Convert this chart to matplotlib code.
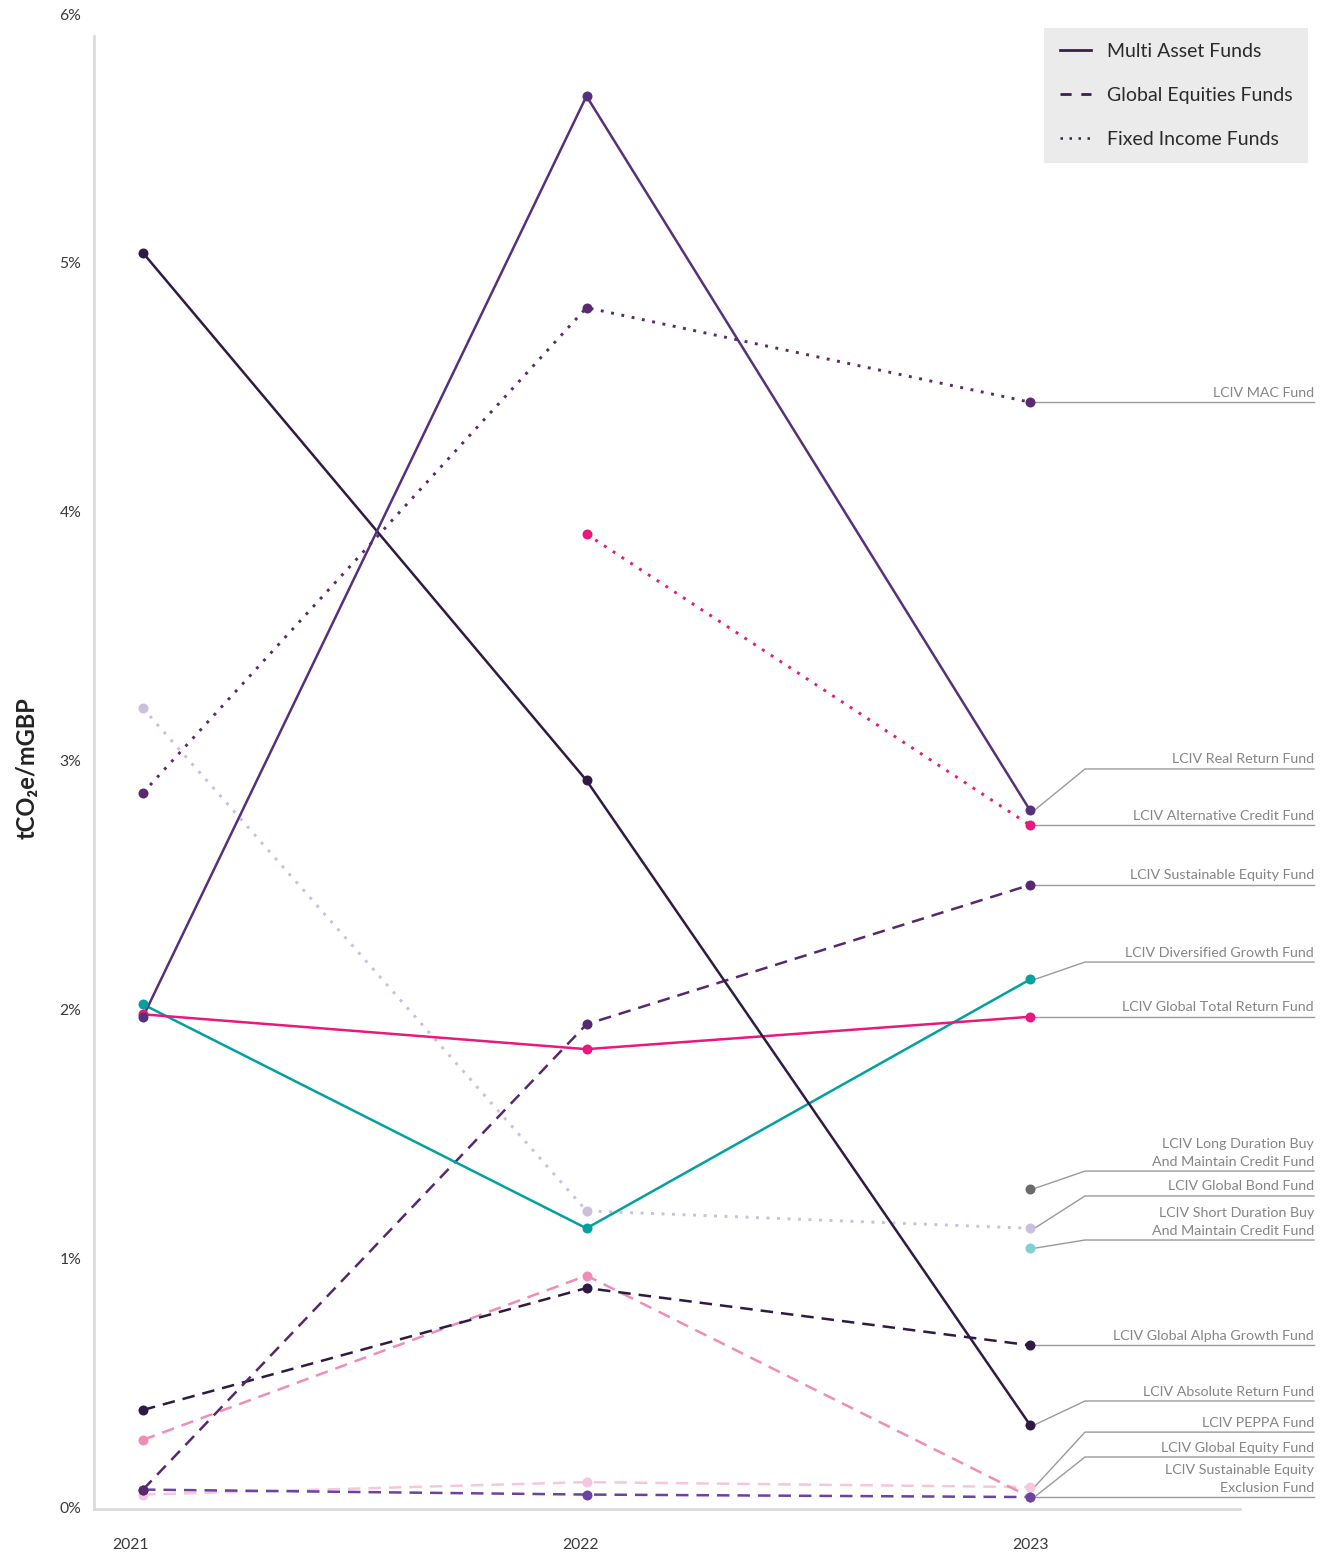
import numpy as np
import matplotlib
matplotlib.use("Agg")
import matplotlib.pyplot as plt
from matplotlib.lines import Line2D

plt.rcParams["font.family"] = ["Lato", "DejaVu Sans"]

years = ["2021", "2022", "2023"]

# Carbon intensity (tCO2e/mGBP, shown as %) per fund and year; NaN = no figure
mac_fund = [2.87, 4.82, 4.44]
real_return = [1.97, 5.67, 2.80]
alternative_credit = [np.nan, 3.91, 2.74]
sustainable_equity = [0.07, 1.94, 2.50]
diversified_growth = [2.02, 1.12, 2.12]
global_total_return = [1.98, 1.84, 1.97]
long_duration_bm = [np.nan, np.nan, 1.28]
global_bond = [3.21, 1.19, 1.12]
short_duration_bm = [np.nan, np.nan, 1.04]
global_alpha_growth = [0.39, 0.88, 0.65]
absolute_return = [5.04, 2.92, 0.33]
peppa = [0.05, 0.10, 0.08]
global_equity = [0.27, 0.93, 0.04]
sustainable_equity_exclusion = [0.07, 0.05, 0.04]

y_ticks = [0, 1, 2, 3, 4, 5, 6]
y_tick_labels = ["0%", "1%", "2%", "3%", "4%", "5%", "6%"]

SOLID, DASHED, DOTTED = "solid", "dashed", "dotted"

# name, values, colour, style, label line height (axis units)
series = [
    ("LCIV MAC Fund", mac_fund, "#5a2a6e", DOTTED, None),
    ("LCIV Real Return Fund", real_return, "#56307a", SOLID, 2.966),
    ("LCIV Alternative Credit Fund", alternative_credit, "#e8197c", DOTTED, None),
    ("LCIV Sustainable Equity Fund", sustainable_equity, "#55286f", DASHED, None),
    ("LCIV Diversified Growth Fund", diversified_growth, "#00a19f", SOLID, 2.190),
    ("LCIV Global Total Return Fund", global_total_return, "#e8197c", SOLID, None),
    ("LCIV Long Duration Buy\nAnd Maintain Credit Fund", long_duration_bm, "#6b6b6b", DOTTED, 1.350),
    ("LCIV Global Bond Fund", global_bond, "#cbbfe0", DOTTED, 1.250),
    ("LCIV Short Duration Buy\nAnd Maintain Credit Fund", short_duration_bm, "#80d0d2", DOTTED, 1.073),
    ("LCIV Global Alpha Growth Fund", global_alpha_growth, "#2e1a45", DASHED, None),
    ("LCIV Absolute Return Fund", absolute_return, "#2e1a45", SOLID, 0.426),
    ("LCIV PEPPA Fund", peppa, "#f5c6dd", DASHED, 0.301),
    ("LCIV Global Equity Fund", global_equity, "#f08db7", DASHED, 0.201),
    ("LCIV Sustainable Equity\nExclusion Fund", sustainable_equity_exclusion, "#6a42a0", DASHED, None),
]

W, H = 1331, 1552
fig = plt.figure(figsize=(W / 100, H / 100), dpi=100)
ax_left, ax_right = 94 / W, 1240 / W
ax_bottom, ax_top = 1 - 1509 / H, 1 - 14 / H
ax = fig.add_axes([ax_left, ax_bottom, ax_right - ax_left, ax_top - ax_bottom])

px_per_unit_x = 443.5
x0_px = 143
xmin = (94 - x0_px) / px_per_unit_x
xmax = (1240 - x0_px) / px_per_unit_x
ax.set_xlim(xmin, xmax)
ax.set_ylim(-0.008, 6)

x = np.arange(len(years))

def style_kwargs(style, lw=1.8):
    if style == SOLID:
        return dict(linestyle="-", linewidth=lw)
    if style == DASHED:
        return dict(linestyle=(0, (5, 3.2)), linewidth=lw)
    return dict(linestyle=(0, (1, 2.6)), linewidth=lw + 0.3)

# draw lighter series first so darker ones sit on top
order = [7, 11, 12, 8, 6, 13, 9, 3, 4, 5, 2, 0, 10, 1]
for i in order:
    name, vals, color, style, _ = series[i]
    vals = np.asarray(vals, dtype=float)
    ax.plot(x, vals, color=color, solid_capstyle="butt", dash_capstyle="butt",
            **style_kwargs(style), zorder=2)
    ax.plot(x, vals, linestyle="none", marker="o", markersize=7.2,
            color=color, markeredgewidth=0, zorder=3)

# end-of-line labels with leader lines
elbow_x = (1085 - x0_px) / px_per_unit_x
label_end_x = (1314 - x0_px) / px_per_unit_x
leader_color = "#9a9a9a"
for name, vals, color, style, label_y in series:
    last = vals[-1]
    if label_y is None:
        label_y = last
        xs, ys = [x[-1], label_end_x], [last, last]
    else:
        xs, ys = [x[-1] + 0.01, elbow_x, label_end_x], [last, label_y, label_y]
    ax.plot(xs, ys, color=leader_color, linewidth=1.0, clip_on=False, zorder=1)
    ax.annotate(name, xy=(label_end_x, label_y), xytext=(0, 2.5),
                textcoords="offset points", ha="right", va="bottom",
                fontsize=10.3, color="#858585", linespacing=1.6,
                annotation_clip=False)

# axes styling
for side in ("top", "right"):
    ax.spines[side].set_visible(False)
ax.spines["left"].set_color("#dcdcdc")
ax.spines["bottom"].set_color("#dcdcdc")
ax.spines["left"].set_linewidth(2)
ax.spines["bottom"].set_linewidth(2)
ax.spines["left"].set_bounds(-0.008, 5.91)

ax.set_yticks(y_ticks)
ax.set_yticklabels(y_tick_labels)
x_label_pos = [(130 - x0_px) / px_per_unit_x, (580 - x0_px) / px_per_unit_x, (1030 - x0_px) / px_per_unit_x]
ax.set_xticks(x_label_pos)
ax.set_xticklabels(years)
ax.tick_params(axis="both", length=0, labelsize=11.3, labelcolor="#3a3a3a")
ax.tick_params(axis="y", pad=9)
ax.tick_params(axis="x", pad=21)

fig.text(27 / W, 1 - 768 / H, "tCO\u2082e/mGBP", rotation=90, ha="center",
         va="center", fontsize=17, fontweight="bold", color="#222222")

# legend for the line styles
handle_color = "#3b1f4f"
handles = [
    Line2D([], [], color=handle_color, linewidth=2, linestyle="-"),
    Line2D([], [], color=handle_color, linewidth=2, linestyle=(0, (4, 3.5))),
    Line2D([], [], color=handle_color, linewidth=1.8, linestyle=(0, (1, 2.6))),
]
leg = fig.legend(handles, ["Multi Asset Funds", "Global Equities Funds", "Fixed Income Funds"],
                 loc="upper right", bbox_to_anchor=(1308 / W, 1 - 28 / H),
                 frameon=True, fancybox=False, facecolor="#ebebeb", edgecolor="none",
                 fontsize=14, handlelength=1.6, handletextpad=0.85,
                 labelspacing=1.38, borderpad=0.78, borderaxespad=0)
for t in leg.get_texts():
    t.set_color("#2a2a2a")
leg.get_frame().set_alpha(1)

fig.savefig("out.png", dpi=100)
